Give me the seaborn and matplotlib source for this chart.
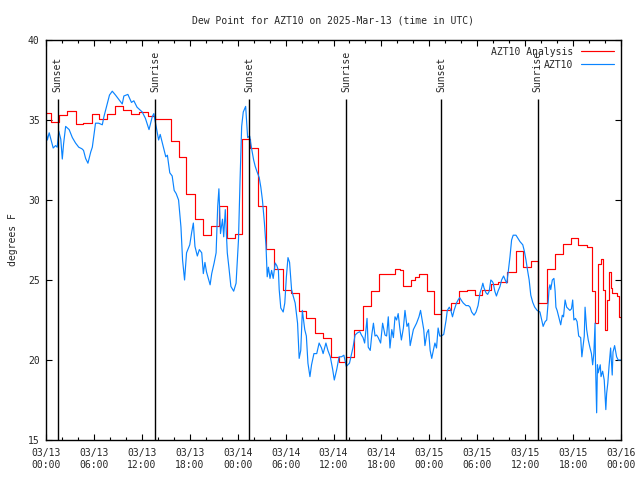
import pandas as pd
import seaborn as sns
import matplotlib.pyplot as plt
import matplotlib.dates as mdates

# 解析値（階段状、1時間ごと）: 03/13 00:00 UTC からの経過時間 [h]
an_hours = [0.0, 0.6, 1.6, 2.6, 3.75, 4.6, 5.8, 6.6, 7.7, 8.7, 9.6, 10.6, 11.6, 12.8,
            13.7, 15.6, 16.7, 17.5, 18.7, 19.6, 20.6, 21.6, 22.7, 23.7, 24.5, 25.5,
            26.5, 27.6, 28.6, 29.7, 30.7, 31.7, 32.6, 33.7, 34.7, 35.7, 36.7, 37.6,
            38.6, 39.7, 40.7, 41.7, 43.7, 44.3, 44.7, 45.7, 46.2, 46.7, 47.7, 48.6,
            49.5, 50.7, 51.7, 52.7, 53.7, 54.6, 55.7, 56.6, 57.7, 58.8, 59.7, 60.7,
            61.6, 62.7, 63.7, 64.7, 65.7, 66.6, 67.7, 68.4, 68.8, 69.1, 69.5, 69.8,
            70.0, 70.2, 70.5, 70.7, 70.9, 71.5, 71.8, 72.0]
an_vals = [35.44, 34.9, 35.3, 35.55, 34.75, 34.8, 35.4, 35.06, 35.4, 35.9, 35.6, 35.4, 35.5, 35.25,
           35.06, 33.7, 32.7, 30.4, 28.8, 27.8, 28.4, 29.6, 27.6, 27.9, 33.8, 33.25,
           29.6, 26.94, 25.7, 24.4, 24.2, 23.06, 22.6, 21.7, 21.4, 20.2, 19.9, 20.2,
           21.9, 23.4, 24.3, 25.4, 25.7, 25.6, 24.6, 25.0, 25.2, 25.4, 24.3, 22.9,
           23.1, 23.56, 24.3, 24.4, 24.06, 24.4, 24.75, 24.9, 25.5, 26.8, 25.8, 26.2,
           23.56, 25.7, 26.6, 27.25, 27.6, 27.2, 27.06, 24.3, 22.3, 26.0, 26.3, 24.4,
           21.9, 23.75, 25.5, 24.5, 24.2, 24.0, 22.7, 22.7]

# 観測値
ob_hours = [0.0, 0.17, 0.4, 0.9, 1.2, 1.4, 1.6, 1.85, 2.04, 2.2, 2.46, 2.9, 3.3, 3.7, 4.1,
            4.5, 4.7, 4.96, 5.25, 5.6, 5.8, 6.2, 6.6, 7.05, 7.25, 7.7, 7.95, 8.3, 8.7,
            9.1, 9.55, 9.75, 10.25, 10.7, 11.0, 11.4, 12.05, 12.45, 12.9, 13.1, 13.3,
            13.5, 13.9, 14.1, 14.3, 14.7, 15.0, 15.2, 15.5, 15.8, 16.05, 16.3, 16.6,
            16.9, 17.1, 17.35, 17.6, 18.0, 18.25, 18.45, 18.65, 18.95, 19.2, 19.5,
            19.7, 19.9, 20.1, 20.55, 20.75, 21.05, 21.3, 21.5, 21.65, 21.85, 22.1,
            22.25, 22.45, 22.7, 22.9, 23.15, 23.5, 23.8, 24.1, 24.3, 24.5, 24.7, 25.0,
            25.25, 25.5, 25.75, 26.0, 26.2, 26.4, 26.7, 26.9, 27.1, 27.35, 27.55,
            27.7, 27.85, 28.05, 28.25, 28.45, 28.7, 28.9, 29.1, 29.2, 29.4, 29.7,
            29.9, 30.1, 30.3, 30.5, 30.75, 30.95, 31.2, 31.5, 31.7, 31.9, 32.1, 32.4,
            32.6, 32.8, 33.05, 33.25, 33.55, 33.9, 34.2, 34.5, 34.7, 35.05, 35.3,
            35.6, 35.9, 36.1, 36.4, 36.7, 37.0, 37.3, 37.6, 38.0, 38.45, 38.7, 39.0,
            39.3, 39.5, 39.7, 39.9, 40.2, 40.35, 40.6, 40.8, 41.0, 41.2, 41.4, 41.6,
            41.9, 42.15, 42.45, 42.65, 42.86, 43.07, 43.3, 43.5, 43.7, 43.9, 44.1,
            44.3, 44.5, 44.75, 44.95, 45.2, 45.4, 45.6, 45.8, 46.0, 46.4, 46.7, 46.9,
            47.1, 47.3, 47.45, 47.7, 47.9, 48.1, 48.3, 48.5, 48.7, 48.9, 49.1, 49.3,
            49.5, 49.8, 50.1, 50.25, 50.5, 50.7, 50.9, 51.1, 51.4, 51.6, 51.8, 52.05,
            52.25, 52.6, 52.9, 53.1, 53.3, 53.6, 53.85, 54.1, 54.35, 54.55, 54.7,
            54.85, 55.1, 55.3, 55.5, 55.7, 55.9, 56.0, 56.2, 56.4, 56.6, 56.85, 57.05,
            57.3, 57.5, 57.7, 57.9, 58.1, 58.3, 58.5, 58.85, 59.1, 59.35, 59.7, 59.9,
            60.1, 60.3, 60.5, 60.7, 60.95, 61.2, 61.5, 61.85, 62.25, 62.5, 62.7, 62.9,
            63.0, 63.1, 63.2, 63.4, 63.6, 63.75, 63.85, 64.0, 64.2, 64.45, 64.65,
            64.8, 65.0, 65.2, 65.4, 65.6, 65.8, 65.95, 66.1, 66.3, 66.5, 66.7, 66.95,
            67.1, 67.4, 67.5, 67.7, 67.9, 68.1, 68.3, 68.45, 68.6, 68.75, 68.8, 68.95,
            69.05, 69.15, 69.4, 69.5, 69.7, 69.9, 70.1, 70.2, 70.35, 70.5, 70.7, 70.9,
            71.0, 71.2, 71.45, 71.65, 71.95]
ob_vals = [34.3, 33.75, 34.2, 33.25, 33.4, 33.3, 34.3, 33.8, 32.56, 33.5, 34.6, 34.4, 33.9, 33.56, 33.3,
           33.2, 33.1, 32.6, 32.3, 33.0, 33.3, 34.8, 34.8, 34.7, 35.2, 36.06, 36.56, 36.8, 36.56,
           36.3, 36.0, 36.5, 36.6, 36.1, 36.2, 35.8, 35.5, 35.1, 34.4, 34.8, 35.2,
           35.4, 34.3, 33.75, 34.1, 33.3, 32.7, 32.8, 31.7, 31.5, 30.6, 30.4, 30.0,
           28.3, 26.25, 25.0, 26.7, 27.2, 28.0, 28.56, 27.1, 26.5, 26.9, 26.7,
           25.4, 26.1, 25.5, 24.7, 25.4, 26.06, 26.7, 29.6, 30.7, 27.9, 28.8,
           27.7, 29.4, 26.7, 25.8, 24.6, 24.3, 24.8, 27.5, 31.25, 34.6, 35.5, 35.85,
           33.9, 34.0, 33.2, 32.5, 32.1, 31.8, 31.4, 30.8, 30.0, 28.56, 27.1,
           25.2, 25.8, 25.1, 25.6, 25.1, 26.06, 25.9, 25.6, 24.4, 23.25, 23.0,
           23.56, 25.2, 26.4, 26.1, 24.4, 24.0, 23.56, 22.3, 20.1, 20.6, 23.1, 21.9,
           21.5, 19.8, 18.96, 19.7, 20.4, 20.4, 21.06, 20.75, 20.4, 21.06, 20.6,
           20.2, 19.4, 18.75, 19.4, 20.2, 20.2, 20.3, 19.6, 19.8, 20.8, 21.56, 21.7,
           21.77, 21.56, 21.4, 21.06, 22.6, 20.8, 20.6, 21.6, 22.3, 21.5, 21.56, 21.4,
           21.06, 22.3, 21.56, 21.5, 22.7, 20.75, 21.9, 21.4, 22.7, 22.5, 22.9,
           22.0, 21.25, 22.0, 23.1, 22.1, 22.3, 20.9, 21.4, 21.9, 22.3, 22.7, 23.1,
           22.5, 21.9, 20.9, 21.7, 21.9, 20.6, 20.1, 20.6, 21.06, 20.75, 22.0, 21.5,
           21.5, 21.6, 22.5, 23.1, 23.3, 23.1, 22.7, 23.1, 23.56, 23.75, 23.9, 23.7,
           23.56, 23.4, 23.4, 23.3, 23.0, 22.8, 23.0, 23.4, 24.2, 24.5, 24.8,
           24.5, 24.2, 24.1, 24.3, 25.0, 24.9, 24.8, 24.3, 24.0, 24.3, 24.6, 25.0,
           25.25, 25.0, 24.8, 25.6, 26.46, 27.5, 27.8, 27.8, 27.6, 27.4, 27.2, 26.8,
           26.25, 25.6, 25.0, 24.06, 23.6, 23.3, 23.1, 23.0, 22.1, 22.4, 22.5, 23.75,
           24.5, 24.7, 24.4, 25.0, 25.1, 24.3, 23.3, 23.1, 22.7, 22.2, 22.8,
           22.7, 23.75, 23.3, 23.2, 23.1, 23.2, 23.75, 22.5, 22.6, 22.4, 21.5, 21.4,
           20.2, 21.5, 23.3, 21.9, 21.25, 20.8, 20.4, 19.7, 20.4, 22.3, 20.0, 16.7,
           19.7, 19.2, 19.7, 18.96, 19.3, 18.75, 16.9, 17.9, 18.56, 19.6, 20.75, 19.06,
           20.5, 20.9, 20.2, 20.0, 20.0]

# 日の出・日の入り
sun_hours = [1.47, 13.65, 25.45, 37.6, 49.45, 61.55]
sun_labels = ['Sunset', 'Sunrise', 'Sunset', 'Sunrise', 'Sunset', 'Sunrise']

t0 = pd.Timestamp('2025-03-13 00:00')
an = pd.DataFrame({'time': t0 + pd.to_timedelta(an_hours, unit='h'), 'dewpt': an_vals})
ob = pd.DataFrame({'time': t0 + pd.to_timedelta(ob_hours, unit='h'), 'dewpt': ob_vals})

sns.set_style('white')
plt.rcParams['font.family'] = ['DejaVu Sans Mono']
plt.rcParams['font.size'] = 7

fig = plt.figure(figsize=(6.4, 4.8), dpi=100)
ax = fig.add_axes([46 / 640, 40 / 480, 575 / 640, 400 / 480])

sns.lineplot(data=an, x='time', y='dewpt', ax=ax, color='#ff0000', linewidth=0.85,
             drawstyle='steps-post', label='AZT10 Analysis')
sns.lineplot(data=ob, x='time', y='dewpt', ax=ax, color='#0a84ff', linewidth=0.85,
             label='AZT10')

for h, lab in zip(sun_hours, sun_labels):
    t = t0 + pd.Timedelta(hours=h)
    ax.vlines(t, 15, 36.33, color='black', linewidth=1)
    ax.text(t, 36.75, lab, rotation=90, ha='center', va='bottom', fontsize=7)

ax.set_xlim(t0, t0 + pd.Timedelta(hours=72))
ax.set_ylim(15, 40)
ax.set_yticks([15, 20, 25, 30, 35, 40])
ax.xaxis.set_major_locator(mdates.HourLocator(byhour=range(0, 24, 6)))
ax.xaxis.set_minor_locator(mdates.HourLocator(byhour=range(0, 24, 2)))
ax.xaxis.set_major_formatter(mdates.DateFormatter('%m/%d\n%H:%M'))
ax.tick_params(which='both', direction='in', top=True, right=True, bottom=True, left=True,
               color='black', width=0.8)
ax.tick_params(which='major', length=4.5)
ax.tick_params(which='minor', length=2.5)
ax.tick_params(axis='x', which='major', pad=6)
ax.tick_params(axis='y', which='major', pad=4.5)
for s in ax.spines.values():
    s.set_color('black')
    s.set_linewidth(1)

ax.set_xlabel('')
ax.set_ylabel('degrees F', labelpad=7)
ax.set_title('Dew Point for AZT10 on 2025-Mar-13 (time in UTC)', fontsize=7, pad=12)
ax.legend(loc='upper right', frameon=False, markerfirst=False, handlelength=3.4,
          fontsize=7, borderaxespad=0.3, labelspacing=0.3, handletextpad=0.8)

plt.savefig('out.png', dpi=100)
